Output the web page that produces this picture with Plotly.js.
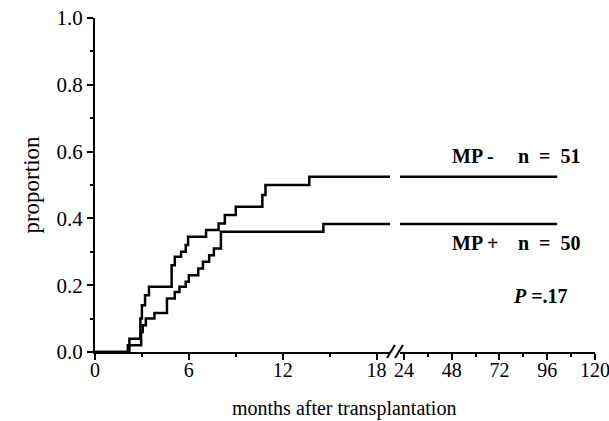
<!DOCTYPE html>
<html>
<head>
<meta charset="utf-8">
<script src="https://cdn.plot.ly/plotly-3.0.1.min.js"></script>
<style>html,body{margin:0;padding:0;background:#fff;}#chart{width:609px;height:421px;}</style>
</head>
<body>
<div id="chart"></div>
<script>
// Step curves (months after transplantation, cumulative proportion)
const mpMinusTimes  = [0, 2.2, 2.9, 3.0, 3.2, 3.45, 4.9, 5.1, 5.5, 5.8, 5.95, 7.1, 7.9, 8.3, 9.0, 10.7, 10.9, 13.7, 101];
const mpMinusValues = [0, 0.04, 0.10, 0.14, 0.17, 0.195, 0.26, 0.285, 0.30, 0.32, 0.345, 0.365, 0.385, 0.41, 0.435, 0.47, 0.50, 0.525, 0.525];
const mpPlusTimes   = [0, 2.1, 2.95, 3.05, 3.25, 3.8, 4.6, 5.1, 5.4, 5.8, 6.0, 6.6, 6.9, 7.3, 7.6, 8.05, 14.6, 101];
const mpPlusValues  = [0, 0.02, 0.06, 0.08, 0.10, 0.117, 0.16, 0.18, 0.195, 0.21, 0.23, 0.25, 0.27, 0.29, 0.31, 0.36, 0.383, 0.383];

const xTicksEarly = [0, 6, 12, 18];
const xTicksLate  = [24, 48, 72, 96, 120];
const yTicks      = [0, 0.2, 0.4, 0.6, 0.8, 1.0];

const seriesLabels = ["MP -", "MP +"];
const nLabels = ["n\u00a0\u00a0=\u00a0\u00a051", "n\u00a0\u00a0=\u00a0\u00a050"];
const pLabel = "<b><i>P</i> =.17</b>";

const serif = "'Liberation Serif', 'DejaVu Serif', 'Times New Roman', serif";
const lineStyle = {color: "#000", width: 2.5, shape: "hv"};

const traces = [
  {x: mpMinusTimes, y: mpMinusValues, xaxis: "x", yaxis: "y", mode: "lines", line: lineStyle, name: seriesLabels[0], hoverinfo: "skip"},
  {x: mpPlusTimes,  y: mpPlusValues,  xaxis: "x", yaxis: "y", mode: "lines", line: lineStyle, name: seriesLabels[1], hoverinfo: "skip"},
  {x: mpMinusTimes, y: mpMinusValues, xaxis: "x2", yaxis: "y", mode: "lines", line: lineStyle, name: seriesLabels[0], hoverinfo: "skip"},
  {x: mpPlusTimes,  y: mpPlusValues,  xaxis: "x2", yaxis: "y", mode: "lines", line: lineStyle, name: seriesLabels[1], hoverinfo: "skip"}
];

const L = 95, R = 595, T = 18, B = 352;
const px = v => (v - L) / (R - L);
const py = v => (B - v) / (B - T);

const axisCommon = {
  showline: true, linecolor: "#000", linewidth: 2,
  ticks: "outside", ticklen: 6, tickwidth: 2, tickcolor: "#000",
  showgrid: false, zeroline: false,
  tickfont: {family: serif, size: 20, color: "#000"},
  ticklabeloverflow: "allow",
  fixedrange: true
};

const layout = {
  width: 609, height: 421,
  margin: {l: L, r: 609 - R, t: T, b: 421 - B},
  paper_bgcolor: "#fff", plot_bgcolor: "#fff",
  showlegend: false,
  font: {family: serif, color: "#000"},
  xaxis: Object.assign({}, axisCommon, {
    domain: [0, px(390)], range: [0, 18.86],
    tickvals: xTicksEarly, ticktext: xTicksEarly.map(String),
    ticklabelstandoff: -7,
    minor: {dtick: 3, tick0: 0, ticks: "outside", ticklen: 3, tickwidth: 2, tickcolor: "#000", showgrid: false},
    anchor: "y"
  }),
  xaxis2: Object.assign({}, axisCommon, {
    domain: [px(400), 1], range: [22, 120],
    tickvals: xTicksLate, ticktext: xTicksLate.map(String),
    ticklabelstandoff: -7,
    minor: {dtick: 12, tick0: 0, ticks: "outside", ticklen: 3, tickwidth: 2, tickcolor: "#000", showgrid: false},
    anchor: "y"
  }),
  yaxis: Object.assign({}, axisCommon, {
    range: [0, 1], tickvals: yTicks, ticktext: yTicks.map(v => v.toFixed(1)),
    tickfont: {family: serif, size: 21, color: "#000"},
    minor: {dtick: 0.1, tick0: 0, ticks: "outside", ticklen: 3, tickwidth: 2, tickcolor: "#000", showgrid: false},
    title: {text: "proportion", font: {family: serif, size: 23, color: "#000"}, standoff: 10},
    anchor: "x"
  }),
  shapes: [
    {type: "line", xref: "paper", yref: "paper", x0: px(387), y0: py(358), x1: px(395), y1: py(345), line: {color: "#000", width: 2}},
    {type: "line", xref: "paper", yref: "paper", x0: px(395), y0: py(358), x1: px(403), y1: py(345), line: {color: "#000", width: 2}}
  ],
  annotations: [
    {xref: "paper", yref: "paper", x: px(450), y: py(156), xanchor: "left", yanchor: "middle", showarrow: false, text: "<b>" + seriesLabels[0] + "</b>", font: {family: serif, size: 20, color: "#000"}},
    {xref: "paper", yref: "paper", x: px(583), y: py(156), xanchor: "right", yanchor: "middle", showarrow: false, text: "<b>" + nLabels[0] + "</b>", font: {family: serif, size: 20, color: "#000"}},
    {xref: "paper", yref: "paper", x: px(450), y: py(243), xanchor: "left", yanchor: "middle", showarrow: false, text: "<b>" + seriesLabels[1] + "</b>", font: {family: serif, size: 20, color: "#000"}},
    {xref: "paper", yref: "paper", x: px(583), y: py(243), xanchor: "right", yanchor: "middle", showarrow: false, text: "<b>" + nLabels[1] + "</b>", font: {family: serif, size: 20, color: "#000"}},
    {xref: "paper", yref: "paper", x: px(570), y: py(296), xanchor: "right", yanchor: "middle", showarrow: false, text: pLabel, font: {family: serif, size: 20, color: "#000"}},
    {xref: "paper", yref: "paper", x: px(344), y: py(408), xanchor: "center", yanchor: "middle", showarrow: false, text: "months after transplantation", font: {family: serif, size: 20, color: "#000"}}
  ]
};

Plotly.newPlot("chart", traces, layout, {staticPlot: true, displayModeBar: false});
</script>
</body>
</html>
